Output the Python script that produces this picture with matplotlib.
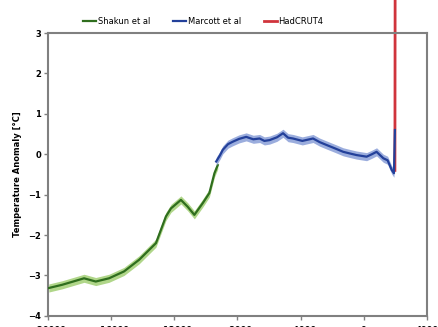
import numpy as np
import matplotlib
matplotlib.use('Agg')
import matplotlib.pyplot as plt

# Shakun et al (year, anomaly)
shakun_year = [-19940, -19090, -18400, -17710, -16970, -16130, -15180, -14220,
               -13160, -12530, -12210, -11580, -11150, -10730, -10200, -9780,
               -9460, -9250]
shakun_temp = [-3.31, -3.23, -3.15, -3.07, -3.15, -3.07, -2.90, -2.61,
               -2.20, -1.54, -1.34, -1.13, -1.30, -1.50, -1.21, -0.96,
               -0.47, -0.27]

# Marcott et al
marcott_year = [-9350, -9100, -8930, -8600, -8300, -7900, -7450, -7000, -6600,
                -6300, -5970, -5500, -5120, -4800, -4490, -3900, -3220, -2800,
                -2370, -1800, -1310, -900, -470, 170, 500, 800, 1230, 1500,
                1760, 1900, 1960]
marcott_temp = [-0.18, -0.02, 0.11, 0.25, 0.31, 0.38, 0.43, 0.37, 0.39,
                0.33, 0.35, 0.42, 0.52, 0.41, 0.39, 0.33, 0.39, 0.30,
                0.23, 0.14, 0.06, 0.02, -0.02, -0.06, 0.00, 0.06, -0.10, -0.15,
                -0.39, -0.47, 0.60]

# HadCRUT4
hadcrut_year = [1960, 1975]
hadcrut_temp = [-0.40, 4.2]

fig = plt.figure(figsize=(4.39, 3.27), dpi=100)
ax = fig.add_axes([0.109, 0.034, 0.864, 0.865])

ax.plot(hadcrut_year, hadcrut_temp, color='#d0343c', lw=2.0, clip_on=False,
        zorder=2, label='HadCRUT4')

ax.fill_between(shakun_year, np.array(shakun_temp) - 0.1, np.array(shakun_temp) + 0.1,
                color='#9ccc6c', alpha=0.8, lw=0, zorder=3)
l1, = ax.plot(shakun_year, shakun_temp, color='#2f6e1e', lw=1.6, zorder=4,
              label='Shakun et al')

ax.fill_between(marcott_year, np.array(marcott_temp) - 0.1, np.array(marcott_temp) + 0.1,
                color='#8a9fd8', alpha=0.85, lw=0, zorder=5)
l2, = ax.plot(marcott_year, marcott_temp, color='#23409a', lw=1.6, zorder=6,
              label='Marcott et al')

ax.set_xlim(-20000, 4000)
ax.set_ylim(-4, 3)
ax.set_xticks(np.arange(-20000, 4001, 4000))
ax.set_yticks(np.arange(-4, 4, 1))
ax.tick_params(direction='out', length=3, width=1, color='#808080',
               labelsize=6, pad=2)
ax.tick_params(axis='x', pad=4)
for lab in ax.get_xticklabels() + ax.get_yticklabels():
    lab.set_fontweight('bold')
for s in ax.spines.values():
    s.set_color('#808080')
    s.set_linewidth(1.5)

ax.set_ylabel('Temperature Anomaly [\u00b0C]', fontsize=6, fontweight='bold',
              labelpad=4)

handles = [l1, l2, ax.lines[0]]
ax.legend(handles, [h.get_label() for h in handles], loc='lower center',
          bbox_to_anchor=(0.41, 1.0), ncol=3, frameon=False, fontsize=6,
          handlelength=1.5, handletextpad=0.2, columnspacing=2.8)

plt.savefig('out.png', dpi=100)
